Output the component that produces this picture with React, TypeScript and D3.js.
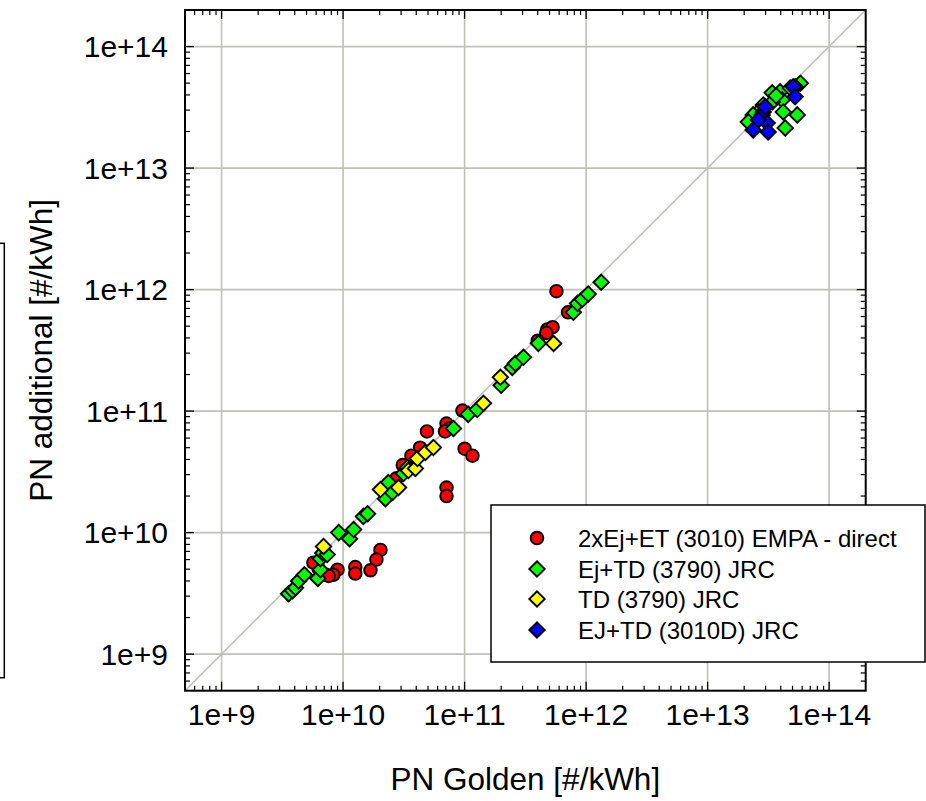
import React from "react";
import * as d3 from "d3";

const W = 926;
const H = 801;
const plotLeft = 185;
const plotRight = 865.7;
const plotTop = 10;
const plotBottom = 690.7;

const domainMin = 5e8;
const domainMax = 2e14;
const majorTicks = [1e9, 1e10, 1e11, 1e12, 1e13, 1e14];
const majorLabels = ["1e+9", "1e+10", "1e+11", "1e+12", "1e+13", "1e+14"];

const xTitle = "PN Golden [#/kWh]";
const yTitle = "PN additional [#/kWh]";

const seriesNames = [
  "2xEj+ET (3010) EMPA - direct",
  "Ej+TD (3790) JRC",
  "TD (3790) JRC",
  "EJ+TD (3010D) JRC",
];
const seriesColors = ["#ff0000", "#00ff00", "#ffff00", "#0000ff"];
const seriesShapes = ["circle", "diamond", "diamond", "diamond"];

// 2xEj+ET (3010) EMPA - direct
const empaX = [5.7e11, 4.8e11, 5.3e11, 4.7e11, 4.0e11, 7.1e11, 9.6e10, 4.9e10, 7.1e10, 7.5e10, 6.9e10, 1.0e11, 1.16e11, 7.1e10, 7.1e10, 4.3e10, 3.1e10, 2.75e10, 3.65e10, 2.03e10, 1.88e10, 1.68e10, 1.26e10, 1.26e10, 9.0e9, 8.3e9, 7.2e9, 6.3e9, 5.7e9, 7.6e9];
const empaY = [9.7e11, 4.7e11, 4.9e11, 4.4e11, 3.8e11, 6.5e11, 1.01e11, 6.8e10, 7.9e10, 7.2e10, 6.8e10, 4.9e10, 4.3e10, 2.35e10, 2.0e10, 5.0e10, 3.6e10, 2.8e10, 4.3e10, 7.2e9, 6.0e9, 4.9e9, 5.2e9, 4.6e9, 4.95e9, 4.5e9, 4.5e9, 5.05e9, 5.66e9, 4.4e9];

// Ej+TD (3790) JRC
const ejtdX = [3.56e9, 3.84e9, 4.06e9, 4.3e9, 4.8e9, 6.2e9, 6.5e9, 6.5e9, 6.8e9, 7.4e9, 9.2e9, 1.13e10, 1.22e10, 1.47e10, 1.59e10, 2.23e10, 2.36e10, 2.55e10, 3.14e10, 3.39e10, 8.1e10, 1.07e11, 1.27e11, 2.0e11, 2.47e11, 2.62e11, 3.05e11, 4.05e11, 7.85e11, 8.5e11, 9.3e11, 1.04e12, 1.33e12,
  5.8e13, 5.25e13, 3.4e13, 3.95e13, 4.1e13, 3.4e13, 4.19e13, 5.46e13, 4.35e13, 2.87e13, 2.61e13, 2.37e13, 2.16e13, 4.78e13, 3.66e13];
const ejtdY = [3.14e9, 3.33e9, 3.52e9, 4.0e9, 4.5e9, 4.2e9, 4.95e9, 6.1e9, 6.8e9, 6.6e9, 1.0e10, 8.9e9, 1.06e10, 1.36e10, 1.43e10, 1.9e10, 2.58e10, 2.14e10, 3.06e10, 3.44e10, 7.2e10, 9.4e10, 1.03e11, 1.63e11, 2.29e11, 2.47e11, 2.77e11, 3.61e11, 6.5e11, 7.7e11, 8.3e11, 9.2e11, 1.15e12,
  5.0e13, 4.67e13, 4.16e13, 4.24e13, 3.64e13, 3.5e13, 2.9e13, 2.74e13, 2.14e13, 3.31e13, 2.9e13, 2.74e13, 2.4e13, 4.57e13, 3.93e13];

// TD (3790) JRC
const tdX = [6.9e9, 2.03e10, 2.86e10, 3.45e10, 3.94e10, 4.09e10, 4.76e10, 5.54e10, 1.43e11, 1.97e11, 5.4e11];
const tdY = [7.7e9, 2.26e10, 2.35e10, 3.24e10, 3.37e10, 4.07e10, 4.57e10, 5.02e10, 1.16e11, 1.9e11, 3.6e11];

// EJ+TD (3010D) JRC
const ej3010X = [5.06e13, 5.25e13, 2.87e13, 2.81e13, 3.09e13, 2.61e13, 2.37e13, 3.15e13, 2.98e13];
const ej3010Y = [4.66e13, 3.86e13, 2.9e13, 2.74e13, 2.35e13, 2.49e13, 2.06e13, 1.98e13, 3.19e13];

const seriesX = [empaX, ejtdX, tdX, ej3010X];
const seriesY = [empaY, ejtdY, tdY, ej3010Y];

const FONT = "'Liberation Sans', Arial, Helvetica, sans-serif";
const GRID = "#c0c0b8";

function Marker({ shape, color, x, y }: { shape: string; color: string; x: number; y: number }) {
  if (shape === "circle") {
    return <circle cx={x} cy={y} r={6.3} fill={color} stroke="#000" strokeWidth={1.9} />;
  }
  const d = d3.symbol(d3.symbolSquare, 118)() as string;
  return <path d={d} transform={`translate(${x},${y}) rotate(45)`} fill={color} stroke="#000" strokeWidth={1.9} />;
}

export default function App() {
  const x = d3.scaleLog().domain([domainMin, domainMax]).range([plotLeft, plotRight]);
  const y = d3.scaleLog().domain([domainMin, domainMax]).range([plotBottom, plotTop]);

  const minorTicks: number[] = [];
  for (let e = 8; e <= 14; e++) {
    for (let m = 2; m <= 9; m++) {
      const v = m * Math.pow(10, e);
      if (v > domainMin && v < domainMax) minorTicks.push(v);
    }
  }

  const diag = d3.line<number>().x((v) => x(v)).y((v) => y(v))([domainMin, domainMax]) as string;

  const legendRows = [538, 569, 599, 630];

  return (
    <svg width={W} height={H} style={{ position: "absolute", left: 0, top: 0, background: "#fff" }} fontFamily={FONT}>
      <rect x={0} y={0} width={W} height={H} fill="#fff" />
      {/* stray box at the left */}
      <rect x={-20} y={243.3} width={24.3} height={434.4} fill="none" stroke="#000" strokeWidth={1.5} />

      {/* grid */}
      {majorTicks.map((t, i) => (
        <g key={"g" + i}>
          <line x1={x(t)} x2={x(t)} y1={plotTop} y2={plotBottom} stroke={GRID} strokeWidth={1.6} />
          <line x1={plotLeft} x2={plotRight} y1={y(t)} y2={y(t)} stroke={GRID} strokeWidth={1.6} />
        </g>
      ))}
      <path d={diag} stroke={GRID} strokeWidth={1.6} fill="none" />

      {/* minor ticks */}
      {minorTicks.map((t, i) => (
        <g key={"m" + i} stroke="#000" strokeWidth={1.2}>
          <line x1={x(t)} x2={x(t)} y1={plotBottom} y2={plotBottom - 5} />
          <line x1={x(t)} x2={x(t)} y1={plotTop} y2={plotTop + 5} />
          <line x1={plotLeft} x2={plotLeft + 5} y1={y(t)} y2={y(t)} />
          <line x1={plotRight} x2={plotRight - 5} y1={y(t)} y2={y(t)} />
        </g>
      ))}
      {majorTicks.map((t, i) => (
        <g key={"M" + i} stroke="#000" strokeWidth={1.3}>
          <line x1={x(t)} x2={x(t)} y1={plotBottom} y2={plotBottom - 9} />
          <line x1={x(t)} x2={x(t)} y1={plotTop} y2={plotTop + 9} />
          <line x1={plotLeft} x2={plotLeft + 9} y1={y(t)} y2={y(t)} />
          <line x1={plotRight} x2={plotRight - 9} y1={y(t)} y2={y(t)} />
        </g>
      ))}

      {/* data */}
      {seriesX.map((xs, s) => (
        <g key={"s" + s}>
          {xs.map((xv, i) => (
            <Marker key={i} shape={seriesShapes[s]} color={seriesColors[s]} x={x(xv)} y={y(seriesY[s][i])} />
          ))}
        </g>
      ))}

      {/* frame */}
      <rect x={plotLeft} y={plotTop} width={plotRight - plotLeft} height={plotBottom - plotTop} fill="none" stroke="#000" strokeWidth={2} />

      {/* tick labels */}
      {majorTicks.map((t, i) => (
        <text key={"xl" + i} x={x(t)} y={725} textAnchor="middle" fontSize={30} fill="#000">
          {majorLabels[i]}
        </text>
      ))}
      {majorTicks.map((t, i) => (
        <text key={"yl" + i} x={168} y={y(t) + 10.5} textAnchor="end" fontSize={30} fill="#000">
          {majorLabels[i]}
        </text>
      ))}

      {/* axis titles */}
      <text x={(plotLeft + plotRight) / 2} y={790} textAnchor="middle" fontSize={31.5} fill="#000">
        {xTitle}
      </text>
      <text transform={`translate(52,${(plotTop + plotBottom) / 2}) rotate(-90)`} textAnchor="middle" fontSize={31.5} fill="#000">
        {yTitle}
      </text>

      {/* legend */}
      <rect x={491} y={505} width={434} height={157} fill="#fff" stroke="#000" strokeWidth={1.5} />
      {seriesNames.map((name, i) => (
        <g key={"lg" + i}>
          <Marker shape={seriesShapes[i]} color={seriesColors[i]} x={537} y={legendRows[i]} />
          <text x={578} y={legendRows[i] + 8.5} fontSize={24} fill="#000">
            {name}
          </text>
        </g>
      ))}
    </svg>
  );
}
